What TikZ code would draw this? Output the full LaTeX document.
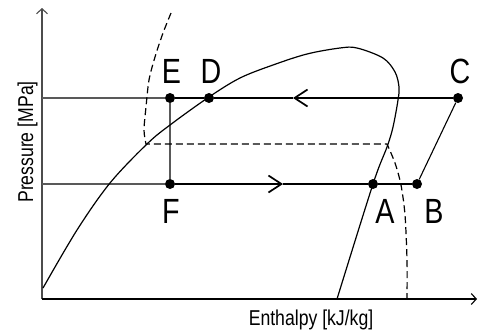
\documentclass[tikz,border=0pt]{standalone}
\usepackage{fontspec}
\setmainfont{Liberation Sans}[FakeStretch=0.82]
\usetikzlibrary{arrows.meta}
\begin{document}
\begin{tikzpicture}[x=1pt,y=-1pt,
  pt/.style={circle,fill=black,inner sep=0pt,minimum size=10pt},
  lbl/.style={anchor=base,inner sep=0pt,font=\fontsize{35}{35}\selectfont},
  axlbl/.style={anchor=base,inner sep=0pt,font=\fontsize{21.5}{22}\selectfont},
  curve/.style={line width=1.2pt},
  sat/.style={line width=1.2pt,dash pattern=on 7pt off 4pt},
  flow/.style={line width=1.1pt},
  aux/.style={line width=1.1pt,black!65},
  axisline/.style={line width=1.1pt,-{Straight Barb[length=5pt,width=11pt]}},
  mid/.style={-{Straight Barb[length=13pt,width=17pt,line width=1.7pt]}},
]
\useasboundingbox (0,0) rectangle (478,330);
% points
\node[pt] (E) at (170,98) {};
\node[pt] (D) at (209,98) {};
\node[pt] (C) at (458,98) {};
\node[pt] (F) at (170,184) {};
\node[pt] (A) at (373,184) {};
\node[pt] (B) at (417,184) {};
\coordinate (O) at (42,299);
\coordinate (Y) at (42,8);
\coordinate (X) at (477,299);
\coordinate (Pu) at (42,98);
\coordinate (Pl) at (42,184);
\coordinate (arrU) at (293,98);
\coordinate (arrL) at (283,184);
% axes
\draw[axisline,black!70] (O) -- (Y);
\draw[axisline] (O) -- (X);
% auxiliary lines
\draw[aux] (Pu) -- (E);
\draw[aux] (Pl) -- (F);
\draw[aux] (E) -- (F);
% cycle
\draw[flow,mid] (C) -- (arrU);
\draw[flow] (arrU) -- (D) -- (E);
\draw[flow,mid] (F) -- (arrL);
\draw[flow] (arrL) -- (A) -- (B);
\draw[flow] (C) -- (B);
% saturation dome
\draw[curve] plot[smooth,tension=0.55] coordinates {(43,288) (77,230) (110,183) (147,144) (170,125) (209,97) (240,78) (273,65) (307,54) (340,48) (357,48) (383,58) (395,72) (399,87) (398,100) (393,127) (387,147) (373,184) (337,299)};
% dashed line
\draw[sat] plot[smooth] coordinates {(171,13) (163,33) (155,57) (149,80) (146,107) (144,130) (146,144)} -- plot[smooth] coordinates {(387,144) (395,163) (401,185) (405,215) (407,260) (407,299)};
% labels
\node[lbl] (lE) at (171.5,83) {E};
\node[lbl] (lD) at (211,83) {D};
\node[lbl] (lC) at (460,83) {C};
\node[lbl] (lF) at (171,223) {F};
\node[lbl] (lA) at (385,223) {A};
\node[lbl] (lB) at (434,223) {B};
\node[axlbl,rotate=90] (ly) at (33,142) {Pressure [MPa]};
\node[axlbl] (lx) at (311,325) {Enthalpy [kJ/kg]};
\end{tikzpicture}
\end{document}
